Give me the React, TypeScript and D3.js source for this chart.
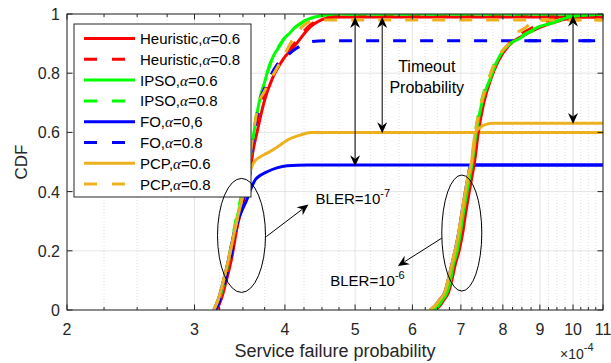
import React from "react";
import * as d3 from "d3";

type P = [number, number];

// ---------- data (x in units of 1e-4, y = CDF) ----------
const xMajorTicks = [2, 3, 4, 5, 6, 7, 8, 9, 10, 11];
const yTicks = [0, 0.2, 0.4, 0.6, 0.8, 1];
const yTickLabels = ["0", "0.2", "0.4", "0.6", "0.8", "1"];

// BLER = 1e-7 group
const heur06_b7: P[] = [[3.22,0],[3.27,0.04],[3.32,0.1],[3.38,0.18],[3.43,0.27],[3.49,0.35],[3.54,0.41],[3.58,0.46],[3.61,0.53],[3.66,0.6],[3.75,0.71],[3.84,0.78],[3.96,0.84],[4.15,0.9],[4.34,0.957],[4.57,0.986],[4.8,0.99],[11,0.99]];
const heur08_b7: P[] = [[3.21,0],[3.26,0.04],[3.31,0.1],[3.37,0.18],[3.42,0.27],[3.48,0.35],[3.53,0.41],[3.57,0.47],[3.6,0.54],[3.64,0.61],[3.72,0.71],[3.81,0.78],[3.93,0.84],[4.12,0.9],[4.3,0.955],[4.5,0.985],[4.7,0.995],[11,0.995]];
const ipso06_b7: P[] = [[3.21,0],[3.25,0.04],[3.3,0.1],[3.36,0.19],[3.42,0.29],[3.48,0.37],[3.53,0.43],[3.57,0.49],[3.6,0.55],[3.63,0.61],[3.67,0.68],[3.7,0.72],[3.75,0.77],[3.8,0.82],[3.86,0.86],[3.93,0.89],[4.0,0.92],[4.06,0.935],[4.13,0.955],[4.2,0.968],[4.3,0.982],[4.4,0.99],[4.55,0.996],[4.7,1],[11,1]];
const ipso08_b7: P[] = [[3.2,0],[3.25,0.05],[3.3,0.11],[3.36,0.2],[3.42,0.3],[3.47,0.37],[3.52,0.43],[3.56,0.49],[3.59,0.55],[3.62,0.6],[3.66,0.67],[3.69,0.71],[3.73,0.75],[3.77,0.79],[3.83,0.84],[3.9,0.88],[3.97,0.91],[4.05,0.935],[4.12,0.952],[4.22,0.97],[4.32,0.985],[4.45,0.993],[4.6,1],[11,1]];
const fo06_b7: P[] = [[3.19,0],[3.24,0.04],[3.29,0.1],[3.35,0.18],[3.41,0.27],[3.48,0.33],[3.54,0.37],[3.59,0.41],[3.64,0.44],[3.7,0.455],[3.78,0.467],[3.9,0.48],[4.03,0.487],[4.3,0.49],[11,0.49]];
const fo08_b7: P[] = [[3.21,0],[3.26,0.04],[3.31,0.1],[3.37,0.18],[3.42,0.27],[3.48,0.35],[3.53,0.41],[3.57,0.47],[3.6,0.54],[3.64,0.62],[3.67,0.676],[3.78,0.766],[3.9,0.828],[4.03,0.86],[4.15,0.884],[4.34,0.906],[4.55,0.91],[11,0.91]];
const pcp06_b7: P[] = [[3.19,0],[3.24,0.04],[3.29,0.1],[3.35,0.18],[3.41,0.27],[3.47,0.35],[3.52,0.41],[3.56,0.45],[3.6,0.485],[3.64,0.505],[3.7,0.518],[3.78,0.53],[3.9,0.55],[4.03,0.574],[4.2,0.591],[4.34,0.6],[11,0.6]];
const pcp08_b7: P[] = [[3.19,0],[3.24,0.04],[3.29,0.1],[3.35,0.18],[3.41,0.27],[3.47,0.35],[3.52,0.42],[3.56,0.48],[3.59,0.54],[3.62,0.6],[3.67,0.687],[3.75,0.74],[3.84,0.788],[3.98,0.856],[4.15,0.935],[4.34,0.975],[4.5,0.98],[11,0.98]];

// BLER = 1e-6 group
const heur06_b6: P[] = [[6.45,0],[6.55,0.015],[6.63,0.034],[6.73,0.06],[6.8,0.1],[6.87,0.15],[6.96,0.2],[7.04,0.26],[7.11,0.33],[7.19,0.4],[7.25,0.45],[7.31,0.5],[7.4,0.6],[7.53,0.7],[7.7,0.78],[7.88,0.84],[8.2,0.9],[8.5,0.925],[9.0,0.955],[9.6,0.978],[10.2,0.99],[11,0.99]];
const heur08_b6: P[] = [[6.43,0],[6.53,0.015],[6.61,0.034],[6.71,0.06],[6.78,0.1],[6.85,0.15],[6.94,0.2],[7.02,0.26],[7.09,0.33],[7.17,0.4],[7.23,0.45],[7.29,0.5],[7.38,0.6],[7.51,0.7],[7.68,0.78],[7.86,0.84],[8.15,0.9],[8.45,0.93],[8.9,0.96],[9.4,0.985],[9.9,0.995],[11,0.997]];
const ipso06_b6: P[] = [[6.42,0],[6.52,0.015],[6.6,0.034],[6.7,0.06],[6.77,0.1],[6.83,0.15],[6.92,0.2],[6.99,0.26],[7.06,0.33],[7.14,0.4],[7.2,0.45],[7.26,0.5],[7.35,0.6],[7.5,0.71],[7.68,0.78],[7.85,0.84],[8.0,0.875],[8.18,0.9],[8.45,0.918],[8.7,0.94],[9.0,0.958],[9.3,0.968],[9.6,0.98],[10.0,0.993],[10.5,0.997],[11,1]];
const ipso08_b6: P[] = [[6.41,0],[6.51,0.015],[6.59,0.035],[6.69,0.06],[6.76,0.1],[6.82,0.15],[6.91,0.2],[6.98,0.27],[7.05,0.34],[7.13,0.41],[7.19,0.46],[7.25,0.51],[7.34,0.61],[7.48,0.71],[7.66,0.785],[7.83,0.845],[8.1,0.89],[8.35,0.91],[8.55,0.93],[8.85,0.945],[9.15,0.962],[9.5,0.975],[9.9,0.99],[10.4,0.998],[11,1]];
const fo06_b6: P[] = [[6.35,0],[6.45,0.015],[6.54,0.034],[6.65,0.06],[6.72,0.1],[6.78,0.14],[6.87,0.2],[6.95,0.26],[7.02,0.327],[7.1,0.4],[7.16,0.45],[7.21,0.485],[7.3,0.49],[11,0.49]];
const fo08_b6: P[] = [[6.42,0],[6.52,0.015],[6.6,0.034],[6.7,0.06],[6.77,0.1],[6.83,0.15],[6.92,0.2],[6.99,0.26],[7.06,0.33],[7.14,0.4],[7.2,0.45],[7.26,0.5],[7.35,0.6],[7.5,0.71],[7.68,0.78],[7.85,0.84],[8.0,0.875],[8.18,0.9],[8.3,0.91],[11,0.91]];
const pcp06_b6: P[] = [[6.35,0],[6.45,0.015],[6.54,0.034],[6.65,0.06],[6.72,0.1],[6.78,0.14],[6.87,0.2],[6.95,0.26],[7.02,0.327],[7.1,0.4],[7.16,0.45],[7.24,0.5],[7.33,0.6],[7.45,0.618],[7.6,0.628],[7.75,0.631],[11,0.631]];
const pcp08_b6: P[] = [[6.35,0],[6.45,0.015],[6.54,0.034],[6.65,0.06],[6.72,0.1],[6.78,0.14],[6.87,0.2],[6.95,0.26],[7.02,0.327],[7.1,0.4],[7.16,0.45],[7.24,0.5],[7.33,0.6],[7.45,0.69],[7.6,0.76],[7.78,0.83],[7.95,0.87],[8.15,0.9],[8.35,0.935],[8.55,0.95],[8.78,0.97],[9.2,0.98],[11,0.98]];

const seriesNames = ["Heuristic,α=0.6", "Heuristic,α=0.8", "IPSO,α=0.6", "IPSO,α=0.8", "FO,α=0,6", "FO,α=0.8", "PCP,α=0.6", "PCP,α=0.8"];
const seriesColors = ["#ff0000", "#ff0000", "#00ff00", "#00ff00", "#0000ff", "#0000ff", "#EDB120", "#EDB120"];
const seriesDashed = [false, true, false, true, false, true, false, true];

// annotations (data coords)
const timeoutArrows: { x: number; y0: number; y1: number }[] = [
  { x: 5.0, y0: 0.99, y1: 0.486 },
  { x: 5.45, y0: 0.99, y1: 0.597 },
  { x: 10.0, y0: 0.995, y1: 0.628 },
];

const W = 611, H = 363;
const FONT = "'Liberation Sans', Arial, Helvetica, sans-serif";

function ArrowHead({ tx, ty, ang }: { tx: number; ty: number; ang: number }) {
  const L = 11, Wd = 10, N = 7.5;
  const c = Math.cos(ang), s = Math.sin(ang);
  const pt = (a: number, b: number) => [tx + a * c - b * s, ty + a * s + b * c];
  const p1 = pt(-L, Wd / 2), p2 = pt(-N, 0), p3 = pt(-L, -Wd / 2);
  return <path d={`M${tx},${ty}L${p1[0]},${p1[1]}L${p2[0]},${p2[1]}L${p3[0]},${p3[1]}Z`} fill="#000" />;
}

export default function App() {
  const x = d3.scaleLog().domain([2, 11]).range([67, 603]);
  const y = d3.scaleLinear().domain([0, 1]).range([310, 14]);
  const [x0, x1] = x.range();
  const [yb, yt] = y.range();

  const line = d3.line<P>().x((d) => x(d[0])).y((d) => y(d[1])).curve(d3.curveMonotoneX);

  const minorTicks: number[] = [];
  for (let v = 2; v < 11; v += 0.25) if (Math.abs(v - Math.round(v)) > 1e-6) minorTicks.push(v);

  // draw order: hidden right-group FO under-curves first, then legend order
  const drawList: { d: P[]; i: number }[] = [
    { d: fo06_b6, i: 4 }, { d: fo08_b6, i: 5 },
    { d: heur06_b7, i: 0 }, { d: heur08_b7, i: 1 }, { d: ipso06_b7, i: 2 }, { d: ipso08_b7, i: 3 },
    { d: fo06_b7, i: 4 }, { d: fo08_b7, i: 5 }, { d: pcp06_b7, i: 6 }, { d: pcp08_b7, i: 7 },
    { d: heur06_b6, i: 0 }, { d: heur08_b6, i: 1 }, { d: ipso06_b6, i: 2 }, { d: ipso08_b6, i: 3 },
    { d: pcp06_b6, i: 6 }, { d: pcp08_b6, i: 7 },
  ];

  const axisColor = "#262626";

  // legend geometry
  const lgX = 74, lgY = 24, lgW = 177, lgH = 173;
  const rowY0 = 38.5, rowStep = 20.8;

  // ellipses & single arrows
  const ell1 = { cx: x(3.484), cy: y(0.252), rx: 24, ry: 57 };
  const ell2 = { cx: x(7.02), cy: y(0.26), rx: 20, ry: 58 };
  const a1s = [x(3.77), y(0.248)], a1e = [x(4.31), y(0.356)];
  const a2s = [x(6.59), y(0.243)], a2e = [x(5.73), y(0.149)];

  return (
    <div style={{ position: "fixed", left: 0, top: 0 }}>
      <svg width={W} height={H} style={{ display: "block" }} fontFamily={FONT}>
        <rect x={0} y={0} width={W} height={H} fill="#fff" />
        <defs>
          <clipPath id="plotclip">
            <rect x={x0} y={yt} width={x1 - x0} height={yb - yt} />
          </clipPath>
        </defs>
        {/* minor grid */}
        {minorTicks.map((v) => (
          <line key={"mg" + v} x1={x(v)} x2={x(v)} y1={yt} y2={yb} stroke="#c8c8c8" strokeWidth={0.6} strokeDasharray="1 2" />
        ))}
        {/* major grid */}
        {xMajorTicks.map((v) => (
          <line key={"gx" + v} x1={x(v)} x2={x(v)} y1={yt} y2={yb} stroke="#dedede" strokeWidth={0.8} />
        ))}
        {yTicks.map((v) => (
          <line key={"gy" + v} x1={x0} x2={x1} y1={y(v)} y2={y(v)} stroke="#dedede" strokeWidth={0.8} />
        ))}

        {/* data */}
        <g clipPath="url(#plotclip)">
          {drawList.map((s, k) => (
            <path key={k} d={line(s.d) || ""} fill="none" stroke={seriesColors[s.i]} strokeWidth={3}
              strokeDasharray={seriesDashed[s.i] ? "13 14" : undefined} strokeLinejoin="round" />
          ))}
        </g>

        {/* axes box */}
        <rect x={x0} y={yt} width={x1 - x0} height={yb - yt} fill="none" stroke={axisColor} strokeWidth={1} />
        {/* ticks */}
        {xMajorTicks.map((v) => (
          <g key={"tx" + v}>
            <line x1={x(v)} x2={x(v)} y1={yb} y2={yb - 5.5} stroke={axisColor} />
            <line x1={x(v)} x2={x(v)} y1={yt} y2={yt + 5.5} stroke={axisColor} />
            <text x={x(v)} y={335} fontSize={16} textAnchor="middle" fill={axisColor}>{v}</text>
          </g>
        ))}
        {minorTicks.map((v) => (
          <g key={"mt" + v}>
            <line x1={x(v)} x2={x(v)} y1={yb} y2={yb - 3} stroke={axisColor} />
            <line x1={x(v)} x2={x(v)} y1={yt} y2={yt + 3} stroke={axisColor} />
          </g>
        ))}
        {yTicks.map((v, i) => (
          <g key={"ty" + v}>
            <line x1={x0} x2={x0 + 5.5} y1={y(v)} y2={y(v)} stroke={axisColor} />
            <line x1={x1} x2={x1 - 5.5} y1={y(v)} y2={y(v)} stroke={axisColor} />
            <text x={60} y={y(v) + 6} fontSize={16} textAnchor="end" fill={axisColor}>{yTickLabels[i]}</text>
          </g>
        ))}
        {/* axis labels */}
        <text x={(x0 + x1) / 2} y={357} fontSize={18} textAnchor="middle" fill={axisColor}>Service failure probability</text>
        <text transform={`translate(27,${(yt + yb) / 2}) rotate(-90)`} fontSize={17} textAnchor="middle" fill={axisColor}>CDF</text>
        <text x={560} y={359} fontSize={14} fill={axisColor}>×10<tspan dy={-8} fontSize={11}>-4</tspan></text>

        {/* legend */}
        <rect x={lgX} y={lgY} width={lgW} height={lgH} fill="#fff" stroke={axisColor} strokeWidth={1} />
        {seriesNames.map((nm, i) => {
          const ry = rowY0 + i * rowStep;
          const [pre, post] = nm.split("α");
          return (
            <g key={"lg" + i}>
              <line x1={84} x2={135} y1={ry} y2={ry} stroke={seriesColors[i]} strokeWidth={3}
                strokeDasharray={seriesDashed[i] ? "13 15" : undefined} />
              <text x={140} y={ry + 5.5} fontSize={15} fill="#000">
                {pre}<tspan fontFamily="'Liberation Serif', 'Times New Roman', serif" fontStyle="italic">α</tspan>{post}
              </text>
            </g>
          );
        })}

        {/* ellipses */}
        <ellipse cx={ell1.cx} cy={ell1.cy} rx={ell1.rx} ry={ell1.ry} fill="none" stroke="#000" strokeWidth={1} />
        <ellipse cx={ell2.cx} cy={ell2.cy} rx={ell2.rx} ry={ell2.ry} fill="none" stroke="#000" strokeWidth={1} />

        {/* single arrows */}
        {[[a1s, a1e], [a2s, a2e]].map(([s, e], k) => {
          const ang = Math.atan2(e[1] - s[1], e[0] - s[0]);
          return (
            <g key={"sa" + k}>
              <line x1={s[0]} y1={s[1]} x2={e[0] - 8 * Math.cos(ang)} y2={e[1] - 8 * Math.sin(ang)} stroke="#000" strokeWidth={1} />
              <ArrowHead tx={e[0]} ty={e[1]} ang={ang} />
            </g>
          );
        })}

        {/* timeout double arrows */}
        {timeoutArrows.map((a, k) => {
          const px = x(a.x), pTop = y(a.y0), pBot = y(a.y1);
          return (
            <g key={"da" + k}>
              <line x1={px} x2={px} y1={pTop + 8} y2={pBot - 8} stroke="#000" strokeWidth={1} />
              <ArrowHead tx={px} ty={pTop} ang={-Math.PI / 2} />
              <ArrowHead tx={px} ty={pBot} ang={Math.PI / 2} />
            </g>
          );
        })}

        {/* texts */}
        <text x={x(4.41)} y={y(0.358)} fontSize={15} fill="#000">BLER=10<tspan dy={-7} fontSize={11}>-7</tspan></text>
        <text x={x(4.62)} y={y(0.081)} fontSize={15} fill="#000">BLER=10<tspan dy={-7} fontSize={11}>-6</tspan></text>
        <text x={x(6.28)} y={y(0.804)} fontSize={16} textAnchor="middle" fill="#000">Timeout</text>
        <text x={x(6.28)} y={y(0.733)} fontSize={16} textAnchor="middle" fill="#000">Probability</text>
      </svg>
    </div>
  );
}
